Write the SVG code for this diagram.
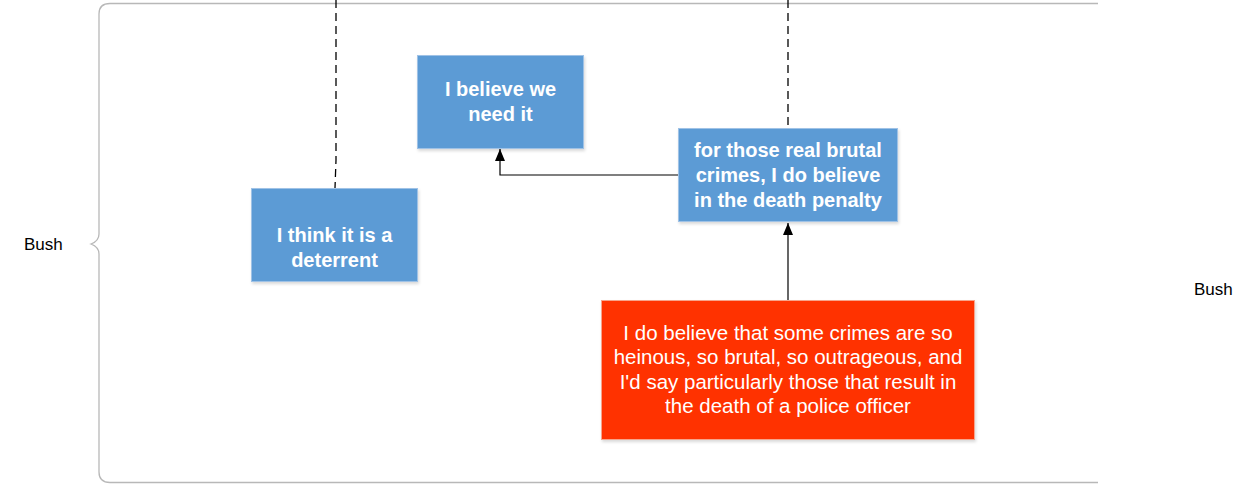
<svg xmlns="http://www.w3.org/2000/svg" width="1254" height="484" viewBox="0 0 1254 484">
<style>
.blue{fill:#5b9bd5;stroke:#9fc2e6;stroke-width:1}
.red{fill:#ff3300;stroke:#f7a48c;stroke-width:1}
.bt{font-family:"Liberation Sans",Arial,sans-serif;font-size:20px;font-weight:bold;fill:#ffffff;text-anchor:middle}
.rt{font-family:"Liberation Sans",Arial,sans-serif;font-size:20.5px;fill:#ffffff;text-anchor:middle}
.lbl{font-family:"Liberation Sans",Arial,sans-serif;font-size:17px;fill:#000000}
.conn{fill:none;stroke:#000000;stroke-width:1.2}
.dash{fill:none;stroke:#000000;stroke-width:1.3;stroke-dasharray:8,5}
</style>
<defs>
<marker id="arr" markerWidth="12" markerHeight="10" refX="12" refY="5" orient="auto" markerUnits="userSpaceOnUse" viewBox="0 0 12 10">
<path d="M0,0 L12,5 L0,10 Z" fill="#000"/>
</marker>
<filter id="sh" x="-10%" y="-10%" width="130%" height="130%">
<feDropShadow dx="1" dy="2" stdDeviation="1.5" flood-color="#000" flood-opacity="0.15"/>
</filter>
</defs>
<g id="brace">
<path d="M1098,3.5 H110 Q99,3.5 99,14 V234 Q99,241 91,244 Q99,247 99,254 V472 Q99,482.5 110,482.5 H1098" fill="none" stroke="#b8b8b8" stroke-width="1.3"/>
<text class="lbl" x="24" y="250">Bush</text>
</g>
<g id="label-right">
<text class="lbl" x="1194" y="295">Bush</text>
</g>
<g id="connectors">
<path class="dash" d="M336,0 V160 L335,188"/>
<path class="dash" d="M788,0 V128" stroke="#444"/>
<path class="conn" d="M678,175 H500 V149" marker-end="url(#arr)"/>
<path class="conn" d="M788,300 V223" marker-end="url(#arr)"/>
</g>
<g id="node-deterrent">
<rect class="blue" x="251.5" y="188.5" width="166" height="93" filter="url(#sh)"/>
<text class="bt" x="334.5" y="242">I think it is a</text>
<text class="bt" x="334.5" y="267">deterrent</text>
</g>
<g id="node-need">
<rect class="blue" x="417.5" y="55.5" width="166" height="93" filter="url(#sh)"/>
<text class="bt" x="500.5" y="96">I believe we</text>
<text class="bt" x="500.5" y="121">need it</text>
</g>
<g id="node-brutal">
<rect class="blue" x="678.5" y="128.5" width="219" height="93" filter="url(#sh)"/>
<text class="bt" x="788" y="157">for those real brutal</text>
<text class="bt" x="788" y="182">crimes, I do believe</text>
<text class="bt" x="788" y="207">in the death penalty</text>
</g>
<g id="node-heinous">
<rect class="red" x="601.5" y="300.5" width="373" height="139" filter="url(#sh)"/>
<text class="rt" x="788" y="340">I do believe that some crimes are so</text>
<text class="rt" x="788" y="364">heinous, so brutal, so outrageous, and</text>
<text class="rt" x="788" y="389">I'd say particularly those that result in</text>
<text class="rt" x="788" y="413">the death of a police officer</text>
</g>
</svg>
